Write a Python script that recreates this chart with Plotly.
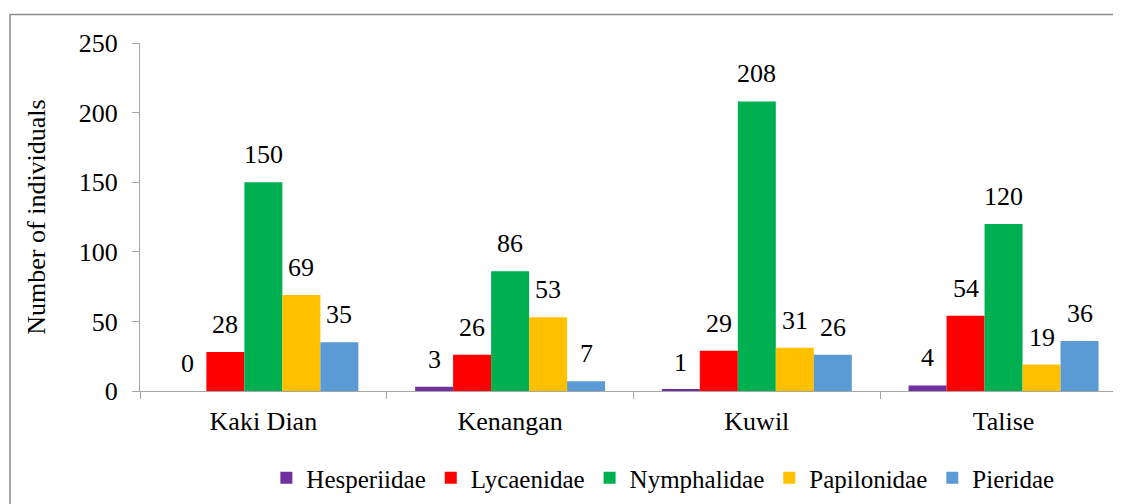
import plotly.graph_objects as go

# --- DATA ---
sites = ["Kaki Dian", "Kenangan", "Kuwil", "Talise"]
families = ["Hesperiidae", "Lycaenidae", "Nymphalidae", "Papilonidae", "Pieridae"]
hesperiidae = [0, 3, 1, 4]
lycaenidae = [28, 26, 29, 54]
nymphalidae = [150, 86, 208, 120]
papilonidae = [69, 53, 31, 19]
pieridae = [35, 7, 26, 36]
y_ticks = [0, 50, 100, 150, 200, 250]

# --- STYLE ---
FONT = "Times New Roman"
COLORS = ["#7030A0", "#FF0000", "#00B050", "#FFC000", "#5B9BD5"]
AXIS_GRAY = "#a6a6a6"
BARGAP = 0.23

series = [hesperiidae, lycaenidae, nymphalidae, papilonidae, pieridae]

fig = go.Figure()
for name, vals, col in zip(families, series, COLORS):
    fig.add_trace(go.Bar(
        name=name, x=sites, y=vals,
        marker=dict(color=col, line=dict(width=0)),
    ))

# value labels above each bar (offset within the group)
n = len(families)
bw = (1 - BARGAP) / n
annots = []
for i, vals in enumerate(series):
    for j, v in enumerate(vals):
        annots.append(dict(
            x=j + (i - (n - 1) / 2) * bw, y=v, xref="x", yref="y",
            text=str(v), showarrow=False, yanchor="bottom", yshift=11,
            font=dict(family=FONT, size=26, color="#000000"),
        ))

# page body has an 8px margin, so the figure is 8px smaller than the window
fig.update_layout(
    width=1113, height=496,
    margin=dict(l=132, r=0, t=35, b=112.5),
    paper_bgcolor="white", plot_bgcolor="white",
    barmode="group", bargap=BARGAP, bargroupgap=0,
    font=dict(family=FONT, size=26, color="#000000"),
    annotations=annots,
    showlegend=True,
    legend=dict(
        orientation="h", x=0.533, xanchor="center", y=-0.25, yanchor="middle",
        font=dict(family=FONT, size=25), itemwidth=30, traceorder="normal",
        bgcolor="rgba(0,0,0,0)",
    ),
    shapes=[dict(
        type="rect", xref="paper", yref="paper",
        x0=-0.1325, x1=1.02, y0=-0.4, y1=1.0818,
        line=dict(color="#8c8c8c", width=1.5), fillcolor="rgba(0,0,0,0)",
        layer="below",
    )],
)

fig.update_xaxes(
    type="category", range=[-0.5, 3.476],
    showline=True, linecolor=AXIS_GRAY, linewidth=1,
    ticks="outside", tickson="boundaries", ticklen=7, tickcolor=AXIS_GRAY,
    ticklabelstandoff=7, showgrid=False, zeroline=False,
    tickfont=dict(family=FONT, size=26),
)
fig.update_yaxes(
    range=[0, 250], tickvals=y_ticks,
    showline=True, linecolor=AXIS_GRAY, linewidth=1,
    ticks="outside", ticklen=7, tickcolor=AXIS_GRAY,
    ticklabelstandoff=9, showgrid=False, zeroline=False,
    tickfont=dict(family=FONT, size=26),
    title=dict(text="Number of individuals", standoff=25,
               font=dict(family=FONT, size=26)),
)

fig.write_html("out.html")
